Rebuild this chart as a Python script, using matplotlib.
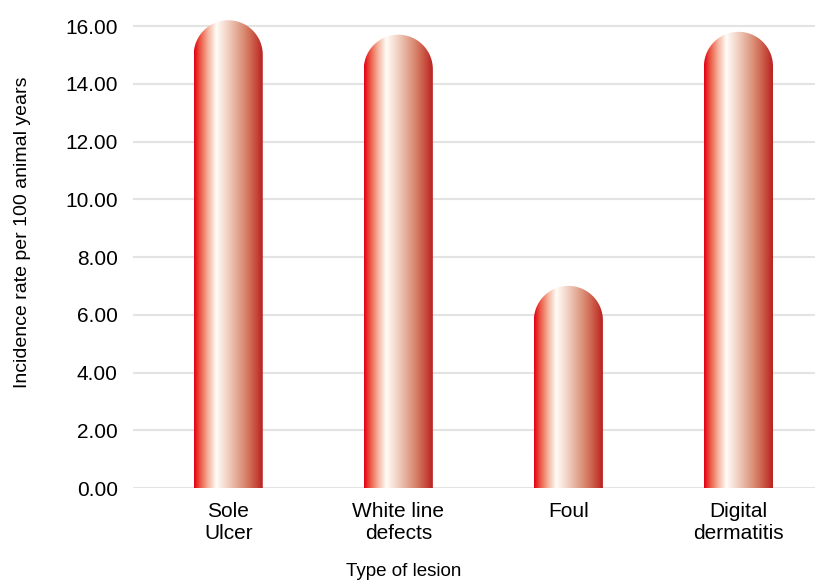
import matplotlib.pyplot as plt
import numpy as np
from matplotlib.path import Path
from matplotlib.patches import PathPatch
from matplotlib.colors import LinearSegmentedColormap

plt.rcParams['font.family'] = ['Liberation Sans', 'DejaVu Sans']

categories = ['Sole\nUlcer', 'White line\ndefects', 'Foul', 'Digital\ndermatitis']
incidence = [16.2, 15.7, 7.0, 15.8]
yticks = [0, 2, 4, 6, 8, 10, 12, 14, 16]

# horizontal shading across each bar: red -> white highlight -> dark red
shade = LinearSegmentedColormap.from_list('tube', [
    (0.00, (0.88, 0.00, 0.08)),
    (0.08, (0.92, 0.32, 0.24)),
    (0.20, (0.96, 0.70, 0.62)),
    (0.32, (1.00, 0.99, 0.97)),
    (0.50, (0.94, 0.80, 0.74)),
    (0.75, (0.84, 0.50, 0.40)),
    (0.92, (0.76, 0.24, 0.20)),
    (1.00, (0.72, 0.10, 0.12)),
])

fig = plt.figure(figsize=(8.15, 5.81), dpi=100)
ax = fig.add_axes([133 / 815, 1 - 488 / 581, 1 - 133 / 815, (488 - 8.7) / 581])

x = np.arange(len(categories))
width = 0.406
ax.set_xlim(-0.56, 3.45)
ax.set_ylim(0, 16.6)

# pixel scale, so the rounded tops come out as true semicircles
fig.canvas.draw()
p0 = ax.transData.transform((0, 0))
p1 = ax.transData.transform((1, 1))
px_x = p1[0] - p0[0]
px_y = p1[1] - p0[1]

grad = np.linspace(0, 1, 256).reshape(1, -1)
for xi, val in zip(x, incidence):
    rx = width / 2
    ry = rx * px_x / px_y
    left, right = xi - rx, xi + rx
    base = val - ry
    t = np.linspace(0, np.pi, 60)
    verts = [(left, 0), (right, 0), (right, base)]
    verts += [(xi + rx * np.cos(a), base + ry * np.sin(a)) for a in t]
    verts += [(left, base), (left, 0)]
    codes = [Path.MOVETO] + [Path.LINETO] * (len(verts) - 2) + [Path.CLOSEPOLY]
    clip = PathPatch(Path(verts, codes), facecolor='none', edgecolor='none')
    ax.add_patch(clip)
    im = ax.imshow(grad, cmap=shade, aspect='auto', extent=(left, right, 0, val),
                   interpolation='bilinear', zorder=2)
    im.set_clip_path(clip)

ax.set_xlim(-0.56, 3.45)
ax.set_ylim(0, 16.6)

ax.set_yticks(yticks)
ax.set_yticklabels([f'{v:.2f}' for v in yticks], fontsize=15)
ax.set_xticks(x)
ax.set_xticklabels(categories, fontsize=15, linespacing=1.18)
ax.tick_params(axis='both', length=0)
ax.tick_params(axis='y', pad=11)
ax.tick_params(axis='x', pad=10)

ax.grid(True, axis='y', color='#e3e3e3', linewidth=1.5, zorder=0)
ax.set_axisbelow(True)
for s in ax.spines.values():
    s.set_visible(False)

ax.set_ylabel('Incidence rate per 100 animal years', fontsize=14)
ax.yaxis.set_label_coords(-0.15, 0.534)
ax.set_xlabel('Type of lesion', fontsize=13.5)
ax.xaxis.set_label_coords(0.397, -0.157)

fig.savefig('out.png', dpi=100)
